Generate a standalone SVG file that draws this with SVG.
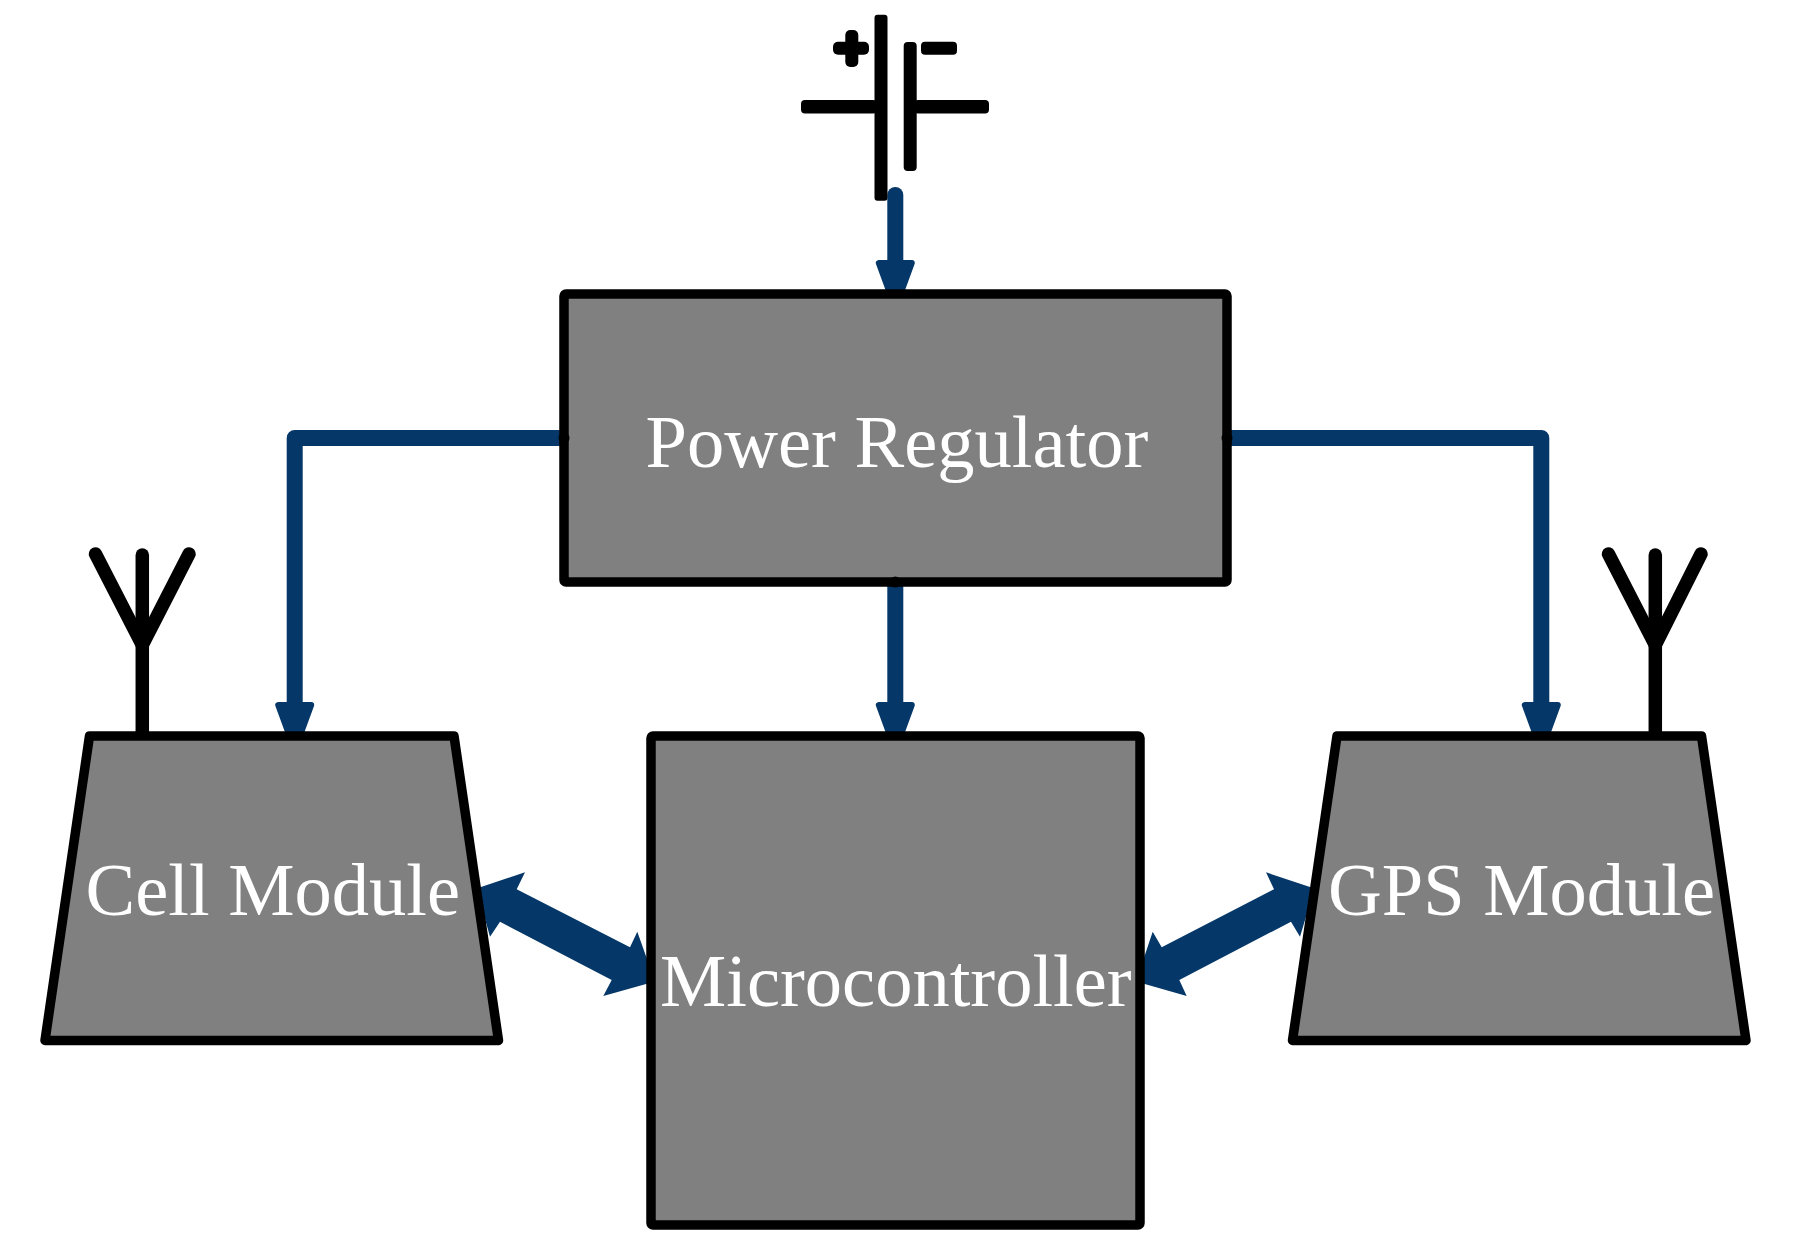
<svg xmlns="http://www.w3.org/2000/svg" width="1794" height="1252" viewBox="0 0 1794 1252">
<style>
.box{fill:#808080;stroke:#000;stroke-width:9.5;stroke-linejoin:round}
.lbl{font-family:"Liberation Serif","Times New Roman",serif;font-size:74.5px;fill:#fff}
.wire{fill:none;stroke:#053868;stroke-width:16;stroke-linejoin:round;stroke-linecap:round}
.wide{fill:#053868;stroke:none}
.ant{fill:none;stroke:#000;stroke-width:13.5;stroke-linecap:round;stroke-linejoin:round}
.port{fill:#000}
.bat{fill:#000}
</style>
<defs>
<marker id="head" markerUnits="userSpaceOnUse" markerWidth="56" markerHeight="46" refX="5" refY="23" orient="auto" viewBox="0 0 56 46">
<path d="M5,6.5 L50,23 L5,39.5 Z" fill="#053868" stroke="#053868" stroke-width="6" stroke-linejoin="round"/>
</marker>
</defs>
<rect width="1794" height="1252" fill="#fff"/>
<g id="connectors">
<path class="wire" d="M895.3,195 V263" marker-end="url(#head)"/>
<path class="wire" d="M564,438 H294.7 V705" marker-end="url(#head)"/>
<path class="wire" d="M1227,438 H1541.3 V705" marker-end="url(#head)"/>
<path class="wire" d="M895.3,582 V705" marker-end="url(#head)"/>
<polygon class="wide" points="476.5,888.5 525,872.3 516.7,889.3 630,947.3 637.3,931.7 655,981.5 603.3,996 611.7,980 500,921.7 490,936.7"/>
<polygon class="wide" points="1314.5,888.5 1266,872.3 1274,889.3 1161.7,947.3 1152.7,931.7 1136,981.5 1186.7,996 1179.3,980 1291,921.7 1300,936.7"/>
</g>
<g id="battery">
<rect class="bat" x="874.5" y="14.7" width="13" height="186" rx="3"/>
<rect class="bat" x="903.7" y="42" width="13" height="129" rx="4"/>
<rect class="bat" x="801" y="100" width="76" height="13.5" rx="4"/>
<rect class="bat" x="914" y="100" width="75" height="13.5" rx="4"/>
<rect class="bat" x="833" y="41.7" width="36" height="13" rx="5"/>
<rect class="bat" x="845.3" y="30" width="13" height="37" rx="5"/>
<rect class="bat" x="921" y="41.7" width="36" height="13" rx="4"/>
</g>
<g id="power-regulator">
<rect class="box" x="564" y="294" width="663" height="288" rx="2"/>
<circle class="port" cx="564" cy="438" r="5.5"/>
<circle class="port" cx="1227" cy="438" r="5.5"/>
<circle class="port" cx="895.3" cy="582" r="5.5"/>
<text class="lbl" x="645.5" y="466.5">Power Regulator</text>
</g>
<g id="cell-antenna">
<path class="ant" d="M142.3,555 V734"/>
<path class="ant" d="M95.5,554 L142.3,645 L189,554"/>
</g>
<g id="cell-module">
<polygon class="box" points="89.5,736 454,736 498.5,1040.5 45,1040.5"/>
<text class="lbl" x="85.5" y="914.5">Cell Module</text>
</g>
<g id="microcontroller">
<rect class="box" x="651" y="736" width="489" height="489" rx="2"/>
<text class="lbl" x="660" y="1006">Microcontroller</text>
</g>
<g id="gps-antenna">
<path class="ant" d="M1655.3,555 V734"/>
<path class="ant" d="M1608.5,554 L1655.3,645 L1701,554"/>
</g>
<g id="gps-module">
<polygon class="box" points="1337,736 1701.5,736 1746,1040.5 1292.5,1040.5"/>
<text class="lbl" x="1328" y="914.5">GPS Module</text>
</g>
</svg>
